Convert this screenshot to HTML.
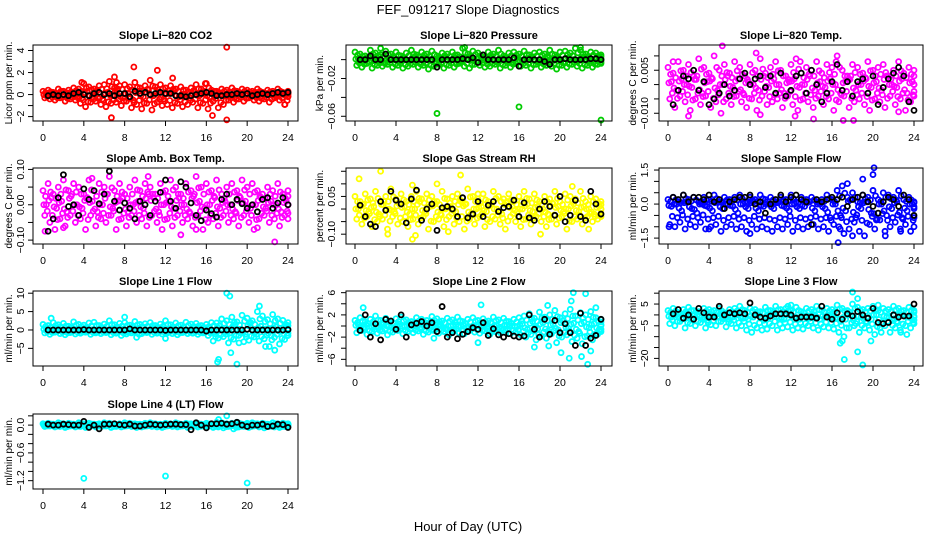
<!DOCTYPE html>
<html><head><meta charset="utf-8"><title>FEF_091217 Slope Diagnostics</title>
<style>
html,body{margin:0;padding:0;background:#fff;}
svg{display:block;font-family:"Liberation Sans",Arial,sans-serif;}
</style></head>
<body>
<svg id="chart" width="936" height="540" viewBox="0 0 936 540" xmlns="http://www.w3.org/2000/svg">
<rect x="0" y="0" width="936" height="540" fill="#fff"/>
<text x="468" y="14" text-anchor="middle" font-size="13">FEF_091217  Slope Diagnostics</text>
<text x="468" y="531" text-anchor="middle" font-size="13">Hour of Day (UTC)</text>
</svg>
<script>
const xTicks=[0,4,8,12,16,20,24];
const xTickLabels=["0","4","8","12","16","20","24"];

const co2Hi=[0.3,0.4,0.2,0.5,0.3,0.4,0.6,0.5,1.0,0.7,0.5,0.8,0.9,1.2,0.6,0.8,0.9,0.7,1.1,0.6,0.8,1.3,0.7,0.9,0.6,0.8,0.5,0.7,0.4,0.6,0.9,0.5,1.0,0.4,0.3,0.5,0.4,0.6,0.3,0.5,0.4,0.3,0.5,0.2,0.4,0.3,0.5,0.2,0.3];
const co2Lo=[-0.3,-0.4,-0.5,-0.3,-0.6,-0.4,-0.5,-0.8,-1.1,-0.7,-0.6,-0.9,-1.1,-0.8,-0.7,-1.0,-0.6,-1.2,-0.9,-1.3,-0.8,-1.4,-0.7,-1.0,-0.9,-1.2,-0.8,-1.1,-0.9,-0.7,-1.2,-0.8,-1.3,-0.6,-1.2,-0.9,-0.5,-0.7,-0.4,-0.6,-0.3,-0.5,-0.6,-0.4,-0.7,-0.3,-0.5,-0.9,-0.2];
const co2Mid=[0.0,0.1,-0.1,0.2,-0.2,0.1,0.0,-0.3,0.3,-0.2,0.4,-0.4,0.2,-0.1,0.5,-0.3,0.1,-0.5,0.3,-0.2,0.4,-0.1,0.2,-0.4,0.1,0.3,-0.2,0.0,-0.3,0.2,-0.1,0.1,-0.2,0.3,0.0,-0.1,0.2,-0.2,0.1,0.0,-0.1,0.2,-0.2,0.1,0.0,-0.1,0.1,0.0,0.1];
const co2Out=[[18,4.3],[8.9,2.5],[11.2,2.2],[12.7,1.5],[7,1.6],[6.7,-2.1],[18,-2.3],[16.6,-1.9],[23.7,-0.9],[7.2,1.1],[3.8,1.1],[15.9,1.0]];
const co2Ref=[-0.1,0,-0.1,0,-0.1,0.1,0.2,0,-0.1,0.1,0.2,0,0.1,-0.1,0.1,0.1,-0.2,0.3,0.1,0.2,0,0.1,0.2,0.1,0.1,-0.1,-0.1,-0.2,-0.1,0,0.1,0.2,0.1,-0.1,-0.1,0,0,0.1,0,0.1,-0.1,0,0.1,0,0.1,0.2,0.1,0.2];

const presHi=[0.008,0.006,0.004,0.010,0.007,0.005,0.009,0.006,0.008,0.004,0.007,0.010,0.005,0.008,0.006,0.009,0.004,0.007,0.006,0.008,0.005,0.012,0.006,0.009,0.007,0.005,0.008,0.006,0.010,0.004,0.007,0.008,0.006,0.009,0.005,0.007,0.008,0.006,0.010,0.005,0.008,0.009,0.007,0.012,0.010,0.006,0.008,0.007,0.005];
const presLo=[-0.006,-0.008,-0.004,-0.009,-0.006,-0.007,-0.005,-0.008,-0.006,-0.009,-0.007,-0.005,-0.008,-0.006,-0.010,-0.007,-0.005,-0.009,-0.006,-0.008,-0.004,-0.007,-0.009,-0.005,-0.006,-0.008,-0.007,-0.005,-0.009,-0.006,-0.008,-0.004,-0.007,-0.006,-0.009,-0.005,-0.008,-0.006,-0.007,-0.010,-0.006,-0.008,-0.005,-0.007,-0.009,-0.006,-0.008,-0.005,-0.004];
const presMid=[0.001,-0.002,0.002,-0.001,0.003,-0.003,0.000,0.002,-0.002,0.001,-0.001,0.003,-0.003,0.002,0.000,-0.002,0.001,0.003,-0.001,0.002,-0.003,0.001,0.000,-0.002,0.002,-0.001,0.003,-0.002,0.001,0.000,-0.003,0.002,-0.001,0.001,0.003,-0.002,0.000,0.002,-0.001,0.001,-0.003,0.002,0.000,-0.001,0.003,0.001,-0.002,0.002,0.000];
const presOut=[[8,-0.057],[16,-0.050],[24,-0.064],[2.5,0.012],[10.7,0.013],[22,0.013]];
const presRef=[0,0,0.004,0,0,0.006,0,0,0,0,0,0,0,0,0,-0.008,0,0,0,0,0.001,0,0.002,-0.003,0.005,0,0,0,0,0,0.002,-0.007,0,0,0,0,-0.002,-0.005,0,0,0.001,0,0,0,0,0.001,0.001,0];

const ltHi=[0.006,0.004,0.008,0.005,0.007,0.003,0.009,0.006,0.004,0.010,0.005,0.007,0.004,0.008,0.006,0.003,0.007,0.005,0.009,0.004,0.006,0.008,0.005,0.003,0.007,0.009,0.004,0.006,0.005,0.008,0.004,0.007,0.006,0.010,0.005,0.003,0.007,0.006,0.004,0.008,0.005,0.006,0.007,0.003,0.005,0.008,0.004,0.006,0.005];
const ltLo=[-0.005,-0.008,-0.004,-0.006,-0.009,-0.005,-0.007,-0.004,-0.008,-0.006,-0.010,-0.005,-0.007,-0.004,-0.006,-0.008,-0.005,-0.009,-0.004,-0.007,-0.006,-0.005,-0.008,-0.004,-0.007,-0.009,-0.005,-0.006,-0.008,-0.004,-0.007,-0.005,-0.009,-0.006,-0.004,-0.008,-0.006,-0.005,-0.007,-0.009,-0.005,-0.006,-0.008,-0.004,-0.007,-0.005,-0.009,-0.006,-0.004];
const ltMid=[0.001,-0.002,0.002,0.000,-0.001,0.003,-0.003,0.001,0.002,-0.002,0.000,0.003,-0.001,0.002,-0.003,0.001,0.000,-0.002,0.003,-0.001,0.002,0.000,-0.003,0.001,0.002,-0.001,0.000,0.003,-0.002,0.001,-0.001,0.002,0.000,-0.003,0.001,0.003,-0.002,0.000,0.002,-0.001,0.001,-0.002,0.003,0.000,-0.001,0.002,-0.003,0.001,0.000];
const ltOut=[[5.3,0.0135],[8.6,0.011],[12.9,0.008],[16.4,0.008],[0.5,0.008],[17.1,-0.0125],[18.1,-0.0125],[2,-0.011],[9,-0.0105],[12.4,-0.011],[14.2,-0.012],[22.5,-0.0095]];
const ltRef=[-0.007,-0.002,0.003,0.002,0.005,-0.002,0.001,-0.007,-0.005,-0.003,0.0,-0.004,-0.002,0.002,0.004,0.0,0.002,0.003,-0.001,0.003,-0.003,0.004,-0.004,-0.002,0.003,0.004,-0.003,0.005,0.0,-0.006,-0.003,0.001,0.007,-0.002,0.001,-0.004,0.001,0.002,-0.003,0.003,-0.007,-0.001,0.002,0.004,0.006,0.003,-0.006,-0.009];

const abHi=[0.04,0.06,0.03,0.05,0.07,0.04,0.06,0.05,0.03,0.07,0.04,0.06,0.05,0.08,0.04,0.06,0.03,0.05,0.07,0.04,0.06,0.05,0.03,0.06,0.04,0.07,0.05,0.03,0.06,0.04,0.08,0.05,0.06,0.04,0.07,0.03,0.05,0.06,0.04,0.07,0.05,0.06,0.04,0.03,0.05,0.04,0.06,0.03,0.04];
const abLo=[-0.03,-0.05,-0.07,-0.04,-0.06,-0.03,-0.05,-0.04,-0.07,-0.03,-0.06,-0.04,-0.05,-0.03,-0.07,-0.04,-0.06,-0.03,-0.05,-0.04,-0.06,-0.03,-0.05,-0.07,-0.04,-0.06,-0.03,-0.05,-0.04,-0.06,-0.03,-0.07,-0.05,-0.04,-0.06,-0.03,-0.05,-0.04,-0.06,-0.03,-0.05,-0.07,-0.04,-0.03,-0.05,-0.04,-0.06,-0.03,-0.04];
const abMid=[0.0,0.02,-0.01,0.01,-0.02,0.03,0.0,-0.01,0.02,0.01,-0.02,0.0,0.03,-0.01,0.01,0.02,-0.02,0.0,0.01,-0.01,0.03,0.02,-0.02,0.0,0.01,-0.01,0.02,0.0,-0.02,0.03,0.01,-0.01,0.0,0.02,-0.01,0.01,0.0,-0.02,0.02,0.01,-0.01,0.0,0.02,-0.01,0.01,0.0,-0.02,0.01,0.0];
const abOut=[[22.7,-0.105],[13.5,-0.085],[15,-0.07],[0.2,-0.075],[2,-0.065],[4.8,0.075],[10.3,0.08],[21,-0.065]];
const abRef=[-0.075,-0.04,0.02,0.085,-0.005,0.0,-0.03,0.045,0.015,0.04,0.003,0.03,0.095,0.01,-0.015,0.005,-0.01,-0.04,0.01,0.0,-0.03,0.01,0.035,0.07,0.01,-0.01,0.065,0.05,0.005,-0.03,-0.045,-0.015,-0.025,-0.035,0.015,0.03,0.0,0.015,0.003,-0.01,0.0,-0.02,0.015,0.02,-0.01,0.005,0.02,0.0];

const rhHi=[0.05,0.03,0.06,0.04,0.07,0.03,0.05,0.08,0.04,0.06,0.03,0.05,0.07,0.04,0.06,0.05,0.03,0.07,0.04,0.05,0.06,0.03,0.08,0.05,0.04,0.06,0.03,0.07,0.05,0.04,0.06,0.03,0.05,0.07,0.04,0.06,0.03,0.05,0.04,0.07,0.03,0.06,0.05,0.04,0.07,0.03,0.05,0.04,0.03];
const rhLo=[-0.04,-0.06,-0.03,-0.07,-0.05,-0.04,-0.08,-0.03,-0.06,-0.05,-0.07,-0.04,-0.06,-0.03,-0.08,-0.05,-0.04,-0.07,-0.03,-0.06,-0.05,-0.08,-0.04,-0.06,-0.03,-0.07,-0.05,-0.04,-0.06,-0.08,-0.03,-0.05,-0.07,-0.04,-0.06,-0.03,-0.05,-0.07,-0.04,-0.06,-0.03,-0.08,-0.05,-0.04,-0.06,-0.03,-0.05,-0.04,-0.03];
const rhMid=[0.0,0.02,-0.01,0.01,-0.02,0.03,0.0,-0.01,0.02,0.01,-0.02,0.0,0.03,-0.01,0.01,0.02,-0.02,0.0,0.01,-0.01,0.03,0.02,-0.02,0.0,0.01,-0.01,0.02,0.0,-0.02,0.03,0.01,-0.01,0.0,0.02,-0.01,0.01,0.0,-0.02,0.02,0.01,-0.01,0.0,0.02,-0.01,0.01,0.0,-0.02,0.01,0.0];
const rhOut=[[0.4,0.12],[2.5,0.15],[10.3,0.135],[5.6,0.095],[8,0.1],[12,0.06],[5.6,-0.12],[5.9,-0.105],[3.2,-0.1],[18.1,-0.1],[22.8,-0.08],[9.1,-0.09],[21.2,0.09]];
const rhRef=[0.015,-0.03,-0.06,-0.07,0.03,-0.005,0.07,0.035,0.02,-0.055,0.04,0.075,-0.045,0.0,0.02,-0.085,0.005,0.01,0.0,-0.03,0.045,-0.035,-0.02,0.03,-0.03,0.015,0.03,-0.01,0.005,0.01,0.035,-0.03,0.025,-0.035,-0.045,0.0,0.03,0.01,-0.025,0.05,-0.05,-0.025,0.035,-0.03,-0.045,0.07,0.02,-0.02];

const sfHi=[0.2,0.3,0.1,0.4,0.2,0.3,0.1,0.3,0.2,0.4,0.1,0.3,0.2,0.3,0.4,0.1,0.3,0.2,0.4,0.2,0.3,0.1,0.3,0.2,0.4,0.1,0.3,0.2,0.3,0.1,0.2,0.4,0.2,0.6,0.8,0.3,0.5,0.1,0.4,0.3,0.6,0.2,0.5,0.4,0.3,0.6,0.2,0.3,0.1];
const sfLo=[-0.9,-1.0,-0.8,-1.1,-0.9,-1.0,-0.8,-1.1,-1.0,-0.9,-1.2,-1.0,-0.9,-1.1,-1.0,-1.2,-0.9,-1.1,-1.0,-1.1,-1.2,-1.0,-1.1,-0.9,-1.2,-1.0,-1.1,-1.0,-0.9,-1.1,-1.0,-1.2,-0.9,-1.0,-1.3,-1.1,-0.8,-1.2,-1.4,-0.9,-1.1,-0.7,-1.2,-1.0,-0.8,-1.1,-0.9,-1.2,-1.0];
const sfMid=[-0.1,0.0,-0.3,0.1,-0.2,-0.4,0.0,-0.1,-0.3,0.1,-0.2,0.0,-0.1,-0.4,0.0,-0.2,0.1,-0.3,-0.1,0.0,-0.2,0.1,-0.1,-0.3,0.0,-0.2,-0.1,0.1,-0.3,0.0,-0.2,-0.6,0.0,-0.5,-0.3,0.2,-0.6,-0.2,0.1,-0.4,-0.7,0.0,-0.5,-0.2,0.1,-0.6,-0.3,0.0,-0.2];
const sfOut=[[20.1,1.6],[20,1.3],[19,1.1],[17.5,0.9],[16.6,-1.7],[0.1,-1.0],[4,-1.1],[8,-1.3],[21.2,-1.4],[18,-1.4],[22.7,-1.2],[16.8,-1.1]];
const sfRef=[0.3,0.2,0.4,0.1,0.3,0.3,0.2,0.4,0.1,0.2,-0.2,0.1,0.2,0.3,0.3,0.4,0.0,0.1,-0.4,0.0,0.2,0.4,0.1,0.3,0.4,0.2,0.1,-0.9,0.2,0.1,0.2,0.3,0.2,0.3,-0.1,0.2,0.3,0.4,0.1,-0.1,-0.4,0.1,0.3,0.2,-0.1,0.4,0.2,-0.5];

const l1Hi=[1.5,1.2,2.0,1.4,1.8,1.0,2.2,1.5,1.3,1.9,2.1,1.2,1.6,2.5,1.4,1.8,2.0,1.3,2.3,1.5,1.7,2.0,1.2,1.6,2.5,1.4,1.9,1.3,2.1,1.6,1.8,1.2,1.5,2.0,1.9,3.0,2.5,3.5,2.2,4.0,3.2,2.5,5.0,3.8,2.8,4.2,3.0,2.6,2.0];
const l1Lo=[-0.8,-1.2,-0.6,-1.0,-1.3,-0.7,-1.1,-0.9,-0.6,-1.2,-0.8,-1.0,-0.7,-1.3,-0.9,-1.5,-1.1,-0.8,-2.0,-1.0,-0.7,-1.2,-0.9,-1.1,-0.8,-1.0,-1.3,-0.7,-1.0,-0.9,-1.2,-0.8,-1.5,-3.0,-2.2,-1.8,-3.5,-2.5,-1.5,-3.2,-2.8,-1.9,-3.0,-2.4,-4.5,-2.0,-3.8,-2.6,-1.5];
const l1Mid=[0.3,-0.2,0.5,0.0,-0.4,0.6,0.2,-0.3,0.4,0.1,-0.5,0.3,0.0,-0.2,0.6,0.2,-0.4,0.1,0.5,-0.3,0.0,0.4,-0.1,0.3,-0.5,0.2,0.0,0.6,-0.2,0.1,0.4,-0.3,0.5,-1.0,1.2,0.5,-0.8,1.5,0.2,-1.2,2.0,-0.5,1.0,0.3,-1.5,0.8,-0.4,1.2,0.0];
const l1Out=[[18,10],[18.3,9.2],[17.2,-8],[17.1,-8.7],[19,-9.3],[18.4,-6.2],[21.2,6.5],[8,3.5],[0.8,3.2],[12,-2.3],[22.7,-5.5],[21.8,-4.5],[19.2,-3.5]];
const l1Ref=[0,0,0,0,0,0,0,0.1,0,0,0,0,0,0,0,0,0.3,0,0,0,0,0,0,-0.1,0,0,0,0,0,0,0,-0.3,0,0,0,0,0,0,0,0.2,0,0,0,0,0,0,0,0.1];

const l2Hi=[1.0,1.5,0.8,1.2,1.8,1.0,1.4,0.9,1.3,1.6,1.1,0.8,1.5,1.2,1.0,1.7,1.3,0.9,1.4,1.1,1.6,0.8,1.2,1.5,1.0,1.3,0.9,1.6,1.1,1.4,0.8,1.2,1.5,1.8,2.2,1.4,2.5,1.6,2.0,2.8,1.5,2.2,3.0,1.8,2.4,2.0,2.6,1.5,1.2];
const l2Lo=[-1.2,-0.8,-1.5,-1.0,-1.3,-0.9,-1.6,-1.1,-0.8,-1.4,-1.0,-1.2,-0.9,-1.5,-1.1,-0.8,-1.3,-1.0,-1.6,-0.9,-1.2,-1.4,-0.8,-1.1,-1.3,-0.9,-1.5,-1.0,-1.2,-0.8,-1.4,-1.1,-1.6,-2.0,-1.5,-2.5,-1.8,-2.2,-1.4,-3.0,-2.0,-1.6,-2.8,-2.2,-3.2,-1.8,-2.5,-1.5,-1.0];
const l2Mid=[0.2,-0.3,0.4,0.0,-0.2,0.5,0.1,-0.4,0.3,-0.1,0.2,0.0,-0.3,0.4,0.1,-0.2,0.3,-0.4,0.0,0.2,-0.1,0.4,-0.3,0.1,0.0,0.3,-0.2,0.1,-0.4,0.2,0.0,-0.1,0.4,-0.6,0.8,-0.5,0.6,-0.9,0.3,-0.7,1.0,-0.4,0.5,-1.0,0.7,-0.3,0.4,-0.6,0.2];
const l2Out=[[21.3,6],[22.5,5.8],[21.1,4.5],[12.3,3.8],[0.8,3.3],[18.8,3.7],[23.5,3.3],[20.9,-5.8],[22.1,-5.5],[22.7,-6.9],[23,-4.5],[20.1,-4.8],[17.5,-3.8],[18.9,-3.6],[12,-3.0],[7.7,-2.2]];
const l2Ref=[-0.8,2.0,-2.0,0.4,-2.5,1.2,0.9,-0.6,2.0,-2.0,0.2,0.5,0.8,0.0,0.6,-1.0,3.5,-2.0,-1.2,-2.3,-1.5,-1.0,-0.3,-0.6,0.6,-1.7,-0.5,-1.6,-2.0,-1.4,-1.8,-2.0,-1.8,2.0,-0.6,-2.0,1.2,-1.5,1.0,-1.2,0.4,-1.2,-3.5,2.3,-3.5,-2.2,-1.7,1.2];

const l3Hi=[2,3,1,2.5,3.5,2,1.5,3,2.5,2,3,1,2.5,3,4,2,3,2.5,1.5,3.5,2,4,2.5,3,2,3.5,1.5,3,2.5,4,2,3,2.5,4.5,3,2,5,3.5,2.5,3,4,2,3,2.5,4,3,2,3.5,2];
const l3Lo=[-4,-5,-3,-6,-4,-5,-3.5,-6,-4.5,-5,-3,-5.5,-4,-6,-5,-7,-8,-6,-7,-6.5,-5,-7,-6,-5.5,-7,-6,-6.5,-5,-6,-7,-5.5,-6,-6.5,-8,-10,-6,-5,-8,-6,-7,-9,-6,-5,-8,-6,-7,-5,-6,-4];
const l3Mid=[-1,0,-2,0.5,-1.5,0,-1,-2.5,0,-1,0.5,-2,-1,0,-1.5,-2,-1,0,-2.5,-1,0.5,-1.5,-2,0,-1,-2,-0.5,-1.5,0,-2,-1,0,-1.5,-3,-2,0,-4,-1,-3,-2,0,-3.5,-1,-2,-3,0,-1,-2,-1];
const l3Out=[[18,10.5],[18.5,7.5],[17.2,-20.5],[19,-23],[18.5,-17],[16.8,-13],[17,-12],[19.8,-12],[20.8,-8],[12,4.5],[11.7,4],[20.5,4.5],[23.3,-9],[22.7,-8]];
const l3Ref=[0.5,2.5,-1.5,0,-2,3,1,-1,-1,4,0,1,0.5,1,0.5,5.5,0,-1,-1.5,-0.5,0.5,0.5,0.5,0,-1.5,-1,-1,-1,-1.5,4,-1,-2,1,-2,0.5,-0.5,1.5,0,-1.5,3,-3.5,-4,-3.5,0,-1,-0.5,-0.5,5];

const l4Hi=[0.03,0.04,0.02,0.05,0.03,0.04,0.02,0.05,0.03,0.04,0.02,0.03,0.05,0.04,0.02,0.03,0.05,0.04,0.03,0.02,0.04,0.05,0.03,0.02,0.04,0.03,0.05,0.02,0.04,0.03,0.05,0.02,0.04,0.03,0.06,0.05,0.03,0.04,0.06,0.02,0.04,0.05,0.03,0.04,0.02,0.05,0.03,0.04,0.03];
const l4Lo=[-0.03,-0.02,-0.04,-0.03,-0.05,-0.02,-0.04,-0.03,-0.05,-0.02,-0.04,-0.03,-0.02,-0.05,-0.03,-0.04,-0.02,-0.03,-0.05,-0.04,-0.02,-0.03,-0.04,-0.05,-0.02,-0.03,-0.04,-0.02,-0.05,-0.03,-0.04,-0.02,-0.03,-0.05,-0.04,-0.06,-0.03,-0.08,-0.04,-0.03,-0.05,-0.02,-0.04,-0.06,-0.03,-0.04,-0.05,-0.03,-0.02];
const l4Mid=[0.0,0.01,-0.01,0.0,0.01,-0.01,0.0,0.01,-0.01,0.0,0.01,0.0,-0.01,0.01,0.0,-0.01,0.0,0.01,-0.01,0.0,0.01,0.0,-0.01,0.01,0.0,-0.01,0.01,0.0,-0.01,0.0,0.01,-0.01,0.0,0.01,0.0,-0.01,0.01,0.0,-0.01,0.01,0.0,-0.01,0.0,0.01,-0.01,0.0,0.01,0.0,0.0];
const l4Out=[[4,-1.15],[12,-1.1],[20,-1.25],[18,0.2],[17.2,0.12]];
const l4Ref=[0.02,0.0,0.0,0.02,0.01,0.0,0.0,0.08,-0.05,0.0,-0.08,0.02,0.02,0.03,0.01,0.0,0.02,-0.02,-0.02,0.0,0.02,0.01,0.0,0.01,0.02,0.02,0.01,0.01,-0.1,0.05,0.0,-0.06,0.03,0.03,0.04,0.02,0.03,0.06,0.0,-0.03,0.0,0.0,0.02,-0.03,-0.02,0.02,0.01,-0.05];

const co2Ticks=[-2,-1,0,1,2,3,4], co2TickLabels=["−2","","0","","2","","4"];
const presTicks=[-0.06,-0.04,-0.02,0], presTickLabels=["−0.06","","−0.02",""];
const ltTicks=[-0.010,-0.005,0,0.005,0.010], ltTickLabels=["−0.010","","","0.005",""];
const abTicks=[-0.10,-0.05,0,0.05,0.10], abTickLabels=["−0.10","","0.00","","0.10"];
const rhTicks=[-0.10,-0.05,0,0.05,0.10,0.15], rhTickLabels=["−0.10","","","0.05","",""];
const sfTicks=[-1.5,-1,-0.5,0,0.5,1,1.5], sfTickLabels=["−1.5","","","0.0","","","1.5"];
const l1Ticks=[-5,0,5,10], l1TickLabels=["−5","0","5","10"];
const l2Ticks=[-6,-4,-2,0,2,4,6], l2TickLabels=["−6","","−2","","2","","6"];
const l3Ticks=[-20,-15,-10,-5,0,5,10], l3TickLabels=["−20","","","−5","","5",""];
const l4Ticks=[-1.2,-1.0,-0.8,-0.6,-0.4,-0.2,0,0.2], l4TickLabels=["−1.2","","","−0.6","","","0.0",""];

const NS="http://www.w3.org/2000/svg";
const svg=document.getElementById('chart');
function mk(tag,attrs,parent){const e=document.createElementNS(NS,tag);for(const k in attrs)e.setAttribute(k,attrs[k]);(parent||svg).appendChild(e);return e;}

const cols=[{l:33,r:298,x0:43,x24:288,tl:20,yt:8},{l:346,r:612,x0:355,x24:601,tl:331,yt:319},{l:659,r:923,x0:668,x24:914,tl:644,yt:632}];
const rows=[{t:45,b:121},{t:168,b:244},{t:291,b:366},{t:414,b:489}];

const panels=[
 {id:'co2',title:'Slope Li−820 CO2',ylab:'Licor ppm per min.',c:0,r:0,ymin:-2.4,ymax:4.5,color:'#ff0000',hi:co2Hi,lo:co2Lo,mid:co2Mid,out:co2Out,ref:co2Ref,ticks:co2Ticks,labels:co2TickLabels},
 {id:'pressure',title:'Slope Li−820 Pressure',ylab:'kPa per min.',c:1,r:0,ymin:-0.065,ymax:0.0155,color:'#00cc00',hi:presHi,lo:presLo,mid:presMid,out:presOut,ref:presRef,ticks:presTicks,labels:presTickLabels},
 {id:'li-temp',title:'Slope Li−820 Temp.',ylab:'degrees C per min.',c:2,r:0,ymin:-0.0127,ymax:0.0138,color:'#ff00ff',hi:ltHi,lo:ltLo,mid:ltMid,out:ltOut,ref:ltRef,ticks:ltTicks,labels:ltTickLabels},
 {id:'amb-box-temp',title:'Slope Amb. Box Temp.',ylab:'degrees C per min.',c:0,r:1,ymin:-0.111,ymax:0.104,color:'#ff00ff',hi:abHi,lo:abLo,mid:abMid,out:abOut,ref:abRef,ticks:abTicks,labels:abTickLabels},
 {id:'gas-rh',title:'Slope Gas Stream RH',ylab:'percent per min.',c:1,r:1,ymin:-0.139,ymax:0.163,color:'#ffff00',hi:rhHi,lo:rhLo,mid:rhMid,out:rhOut,ref:rhRef,ticks:rhTicks,labels:rhTickLabels},
 {id:'sample-flow',title:'Slope Sample Flow',ylab:'ml/min per min.',c:2,r:1,ymin:-1.76,ymax:1.59,color:'#0000ff',hi:sfHi,lo:sfLo,mid:sfMid,out:sfOut,ref:sfRef,ticks:sfTicks,labels:sfTickLabels},
 {id:'line1',title:'Slope Line 1 Flow',ylab:'ml/min per min.',c:0,r:2,ymin:-9.8,ymax:10.6,color:'#00ffff',hi:l1Hi,lo:l1Lo,mid:l1Mid,out:l1Out,ref:l1Ref,ticks:l1Ticks,labels:l1TickLabels},
 {id:'line2',title:'Slope Line 2 Flow',ylab:'ml/min per min.',c:1,r:2,ymin:-7.2,ymax:6.3,color:'#00ffff',hi:l2Hi,lo:l2Lo,mid:l2Mid,out:l2Out,ref:l2Ref,ticks:l2Ticks,labels:l2TickLabels},
 {id:'line3',title:'Slope Line 3 Flow',ylab:'ml/min per min.',c:2,r:2,ymin:-23.5,ymax:11,color:'#00ffff',hi:l3Hi,lo:l3Lo,mid:l3Mid,out:l3Out,ref:l3Ref,ticks:l3Ticks,labels:l3TickLabels},
 {id:'line4',title:'Slope Line 4 (LT) Flow',ylab:'ml/min per min.',c:0,r:3,ymin:-1.38,ymax:0.24,color:'#00ffff',hi:l4Hi,lo:l4Lo,mid:l4Mid,out:l4Out,ref:l4Ref,ticks:l4Ticks,labels:l4TickLabels}
];

panels.forEach(p=>{
  const C=cols[p.c], R=rows[p.r];
  const g=mk('g',{});
  
  
  const xs=h=>C.x0+(C.x24-C.x0)*h/24;
  const ys=v=>R.b-(v-p.ymin)/(p.ymax-p.ymin)*(R.b-R.t);
  const cx=(C.l+C.r)/2;
  const t=mk('text',{x:cx,y:R.t-6,'text-anchor':'middle','font-size':'11','font-weight':'bold'},g);
  t.textContent=p.title;
  
  
  const pts=mk('g',{fill:'none','stroke-width':'1.8'},g);
  
  
  const series=[[p.hi,0],[p.lo,0.17],[p.mid,0.33],[p.mid,0.08],[p.hi,0.25],[p.lo,0.42]];
  series.forEach(([arr,off],si)=>{
    arr.forEach((v,i)=>{
      const h=Math.min(24,i*24/(arr.length-1)+off);
      const vv=si>=3?v*0.6:v;
      const c=mk('circle',{cx:xs(h),cy:ys(vv),r:2.5,stroke:p.color},pts);
      
      
    });
  });
  p.out.forEach(([h,v])=>{
    const c=mk('circle',{cx:xs(h),cy:ys(v),r:2.5,stroke:p.color},pts);
    
    
  });
  p.ref.forEach((v,i)=>{
    const h=24*(i+1)/p.ref.length;
    const c=mk('circle',{cx:xs(h),cy:ys(v),r:2.5,stroke:'#000'},pts);
    
    
  });
  const box=mk('rect',{x:C.l,y:R.t,width:C.r-C.l,height:R.b-R.t,fill:'none',stroke:'#000','stroke-width':'1'},g);
  
  
  const xa=mk('g',{},g);
  
  
  xTicks.forEach((h,i)=>{
    mk('line',{x1:xs(h),x2:xs(h),y1:R.b,y2:R.b+5,stroke:'#000'},xa);
    const l=mk('text',{x:xs(h),y:R.b+20,'text-anchor':'middle','font-size':'10.5'},xa);
    l.textContent=xTickLabels[i];
  });
  const ya=mk('g',{},g);
  
  
  p.ticks.forEach((v,i)=>{
    const y=ys(v);
    mk('line',{x1:C.l-5,x2:C.l,y1:y,y2:y,stroke:'#000'},ya);
    if(p.labels[i]){
      const l=mk('text',{x:C.tl+4,y:y,'text-anchor':'middle','font-size':'10.5',transform:`rotate(-90 ${C.tl+4} ${y})`},ya);
      l.textContent=p.labels[i];
    }
  });
  const yt=mk('text',{x:C.yt+4,y:(R.t+R.b)/2,'text-anchor':'middle','font-size':'10',transform:`rotate(-90 ${C.yt+4} ${(R.t+R.b)/2})`},g);
  yt.textContent=p.ylab;
  
  
});
</script>
</body></html>
